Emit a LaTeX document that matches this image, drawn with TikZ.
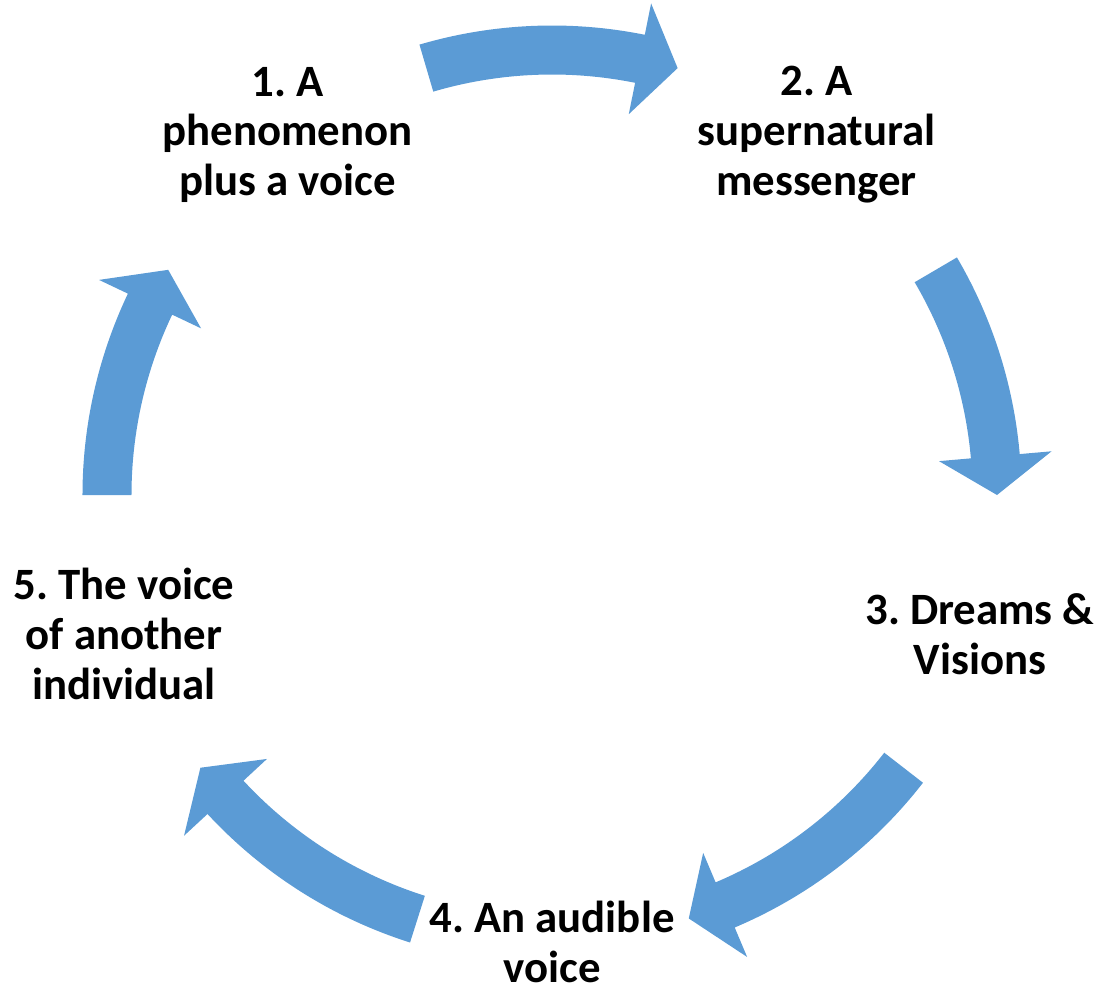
\documentclass[tikz,border=0pt]{standalone}
\usepackage{fontspec}
\setmainfont{Carlito}
\frenchspacing
\definecolor{cycleblue}{HTML}{5B9BD5}
\tikzset{
    stage/.style ={
        align=center,
        font=\fontsize{25.5}{28.4}\selectfont\bfseries,
        text=black,
        inner sep=0pt
    },
    bluearc/.style ={
        fill=cycleblue,
        draw=none
    }
}

\begin{document}
\begin{tikzpicture}
    \useasboundingbox (-11.04,-9.84) rectangle (11.16,9.9);
    % stages on the pentagon
    \node[stage,yshift=-0.08cm] (phenomenon) at (126:9) {1. A\\phenomenon\\plus a voice};
    \node[stage,yshift=-0.08cm] (messenger) at (54:9) {2. A\\supernatural\\messenger};
    \node[stage] (dreams) at (-18:9) {3. Dreams \&\\Visions};
    \node[stage,yshift=0.06cm] (audible) at (-90:9) {4. An audible\\voice};
    \node[stage] (individual) at (198:9) {5. The voice\\of another\\individual};
    % curved block arrows, tail angle / tip angle
    \foreach \a/\b in {106.4/73.6, 30.4/0, -37.8/-72.1, -107.6/-142.2, 180/149.6}{
        \pgfmathsetmacro{\hb}{\b+5}
        \fill[bluearc] (\a:9.39) arc[start angle=\a, end angle=\hb, radius=9.39]
            -- (\hb:10.03) -- (\b:8.9) -- (\hb:7.77) -- (\hb:8.41)
            arc[start angle=\hb, end angle=\a, radius=8.41] -- cycle;
    }
\end{tikzpicture}
\end{document}
